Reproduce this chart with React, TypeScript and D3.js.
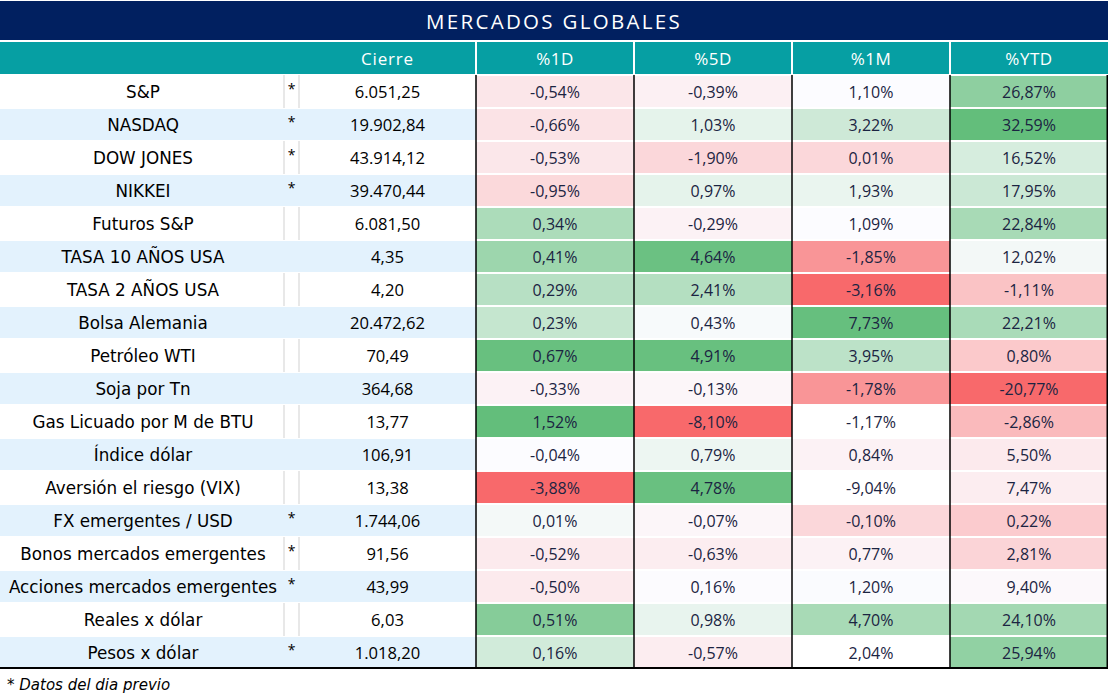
import React from "react";
import * as d3 from "d3";

const title = "MERCADOS GLOBALES";
const pctColumns = ["%1D", "%5D", "%1M", "%YTD"];
const footnote = "* Datos del dia previo";

const names = [
  "S&P", "NASDAQ", "DOW JONES", "NIKKEI", "Futuros S&P", "TASA 10 AÑOS USA",
  "TASA 2 AÑOS USA", "Bolsa Alemania", "Petróleo WTI", "Soja por Tn",
  "Gas Licuado por M de BTU", "Índice dólar", "Aversión el riesgo (VIX)",
  "FX emergentes / USD", "Bonos mercados emergentes", "Acciones mercados emergentes",
  "Reales x dólar", "Pesos x dólar",
];
const previousDay = [true, true, true, true, false, false, false, false, false, false, false, false, false, true, true, true, false, true];
const cierre = ["6.051,25", "19.902,84", "43.914,12", "39.470,44", "6.081,50", "4,35", "4,20", "20.472,62", "70,49", "364,68", "13,77", "106,91", "13,38", "1.744,06", "91,56", "43,99", "6,03", "1.018,20"];

const pct1D = [-0.54, -0.66, -0.53, -0.95, 0.34, 0.41, 0.29, 0.23, 0.67, -0.33, 1.52, -0.04, -3.88, 0.01, -0.52, -0.50, 0.51, 0.16];
const pct5D = [-0.39, 1.03, -1.90, 0.97, -0.29, 4.64, 2.41, 0.43, 4.91, -0.13, -8.10, 0.79, 4.78, -0.07, -0.63, 0.16, 0.98, -0.57];
const pct1M = [1.10, 3.22, 0.01, 1.93, 1.09, -1.85, -3.16, 7.73, 3.95, -1.78, -1.17, 0.84, -9.04, -0.10, 0.77, 1.20, 4.70, 2.04];
const pctYTD = [26.87, 32.59, 16.52, 17.95, 22.84, 12.02, -1.11, 22.21, 0.80, -20.77, -2.86, 5.50, 7.47, 0.22, 2.81, 9.40, 24.10, 25.94];

// heat level of the conditional formatting (-1 red .. 0 neutral .. 1 green, null = no fill)
const heat1D = [-0.15, -0.17, -0.14, -0.24, 0.52, 0.62, 0.45, 0.36, 0.97, -0.07, 1, 0, -1, 0.05, -0.12, -0.12, 0.77, 0.28];
const heat5D = [-0.08, 0.15, -0.25, 0.15, -0.07, 0.95, 0.47, 0.03, 0.97, -0.04, -1, 0.1, 0.96, -0.04, -0.1, -0.01, 0.13, -0.1];
const heat1M = [0, 0.3, -0.25, 0.12, 0, -0.7, -1, 0.98, 0.42, -0.7, null, -0.07, null, -0.25, -0.07, 0.01, 0.55, null];
const heatYTD = [0.72, 1, 0.25, 0.32, 0.55, 0.06, -0.39, 0.54, -0.35, -1, -0.45, -0.12, -0.1, -0.33, -0.27, -0.03, 0.58, 0.7];

const pctValues = [pct1D, pct5D, pct1M, pctYTD];
const heatValues = [heat1D, heat5D, heat1M, heatYTD];

const fmtPct = (v: number) => d3.format(".2f")(v).replace("\u2212", "-").replace(".", ",") + "%";

export default function App() {
  const W = 1109;
  const H = 699;
  const tableLeft = 0;
  const tableRight = 1108;
  const starLeft = 284;
  const cierreLeft = 299;
  const pctLeft = 476;

  const x = d3.scaleBand<string>().domain(pctColumns).range([pctLeft, tableRight]);
  const y = d3.scaleBand<string>().domain(names).range([75, 669]).paddingInner(0.06).paddingOuter(0.03);
  const step = y.step();
  const color = d3.scaleLinear<string>().domain([-1, 0, 1]).range(["#F8696B", "#FCFCFF", "#63BE7B"]);

  const nameFont = "'DejaVu Sans', sans-serif";
  const numFont = "'Open Sans', sans-serif";

  return (
    <svg width={W} height={H} style={{ position: "absolute", left: 0, top: 0, background: "#fff" }}>
      <rect x={tableLeft} y={1} width={tableRight - tableLeft} height={39} fill="#012060" />
      <text x={(tableLeft + tableRight) / 2} y={21} fill="#fff" fontFamily={numFont} fontSize={20.5} letterSpacing={2.3} textAnchor="middle" dominantBaseline="central">{title}</text>

      <rect x={tableLeft} y={42} width={tableRight - tableLeft} height={32} fill="#069FA3" />
      <text x={(cierreLeft + pctLeft) / 2} y={58} fill="#fff" fontFamily={numFont} fontSize={17} letterSpacing={0.8} textAnchor="middle" dominantBaseline="central">Cierre</text>
      {pctColumns.map((c) => (
        <g key={c}>
          <rect x={x(c)! - 1} y={42} width={2} height={32} fill="#fff" />
          <text x={x(c)! + x.bandwidth() / 2} y={58} fill="#fff" fontFamily={numFont} fontSize={17} letterSpacing={0.5} textAnchor="middle" dominantBaseline="central">{c}</text>
        </g>
      ))}

      {names.map((n, i) => {
        const top = y(n)!;
        const h = y.bandwidth();
        const cy = top + h / 2;
        const blue = i % 2 === 1;
        return (
          <g key={n}>
            {blue ? (
              <rect x={tableLeft} y={top} width={pctLeft - tableLeft} height={h} fill="#E3F2FD" />
            ) : (
              <g stroke="#D9D9D9" strokeWidth={1.2}>
                <line x1={starLeft} x2={starLeft} y1={top - (step - h) / 2} y2={top + h + (step - h) / 2} />
                <line x1={cierreLeft} x2={cierreLeft} y1={top - (step - h) / 2} y2={top + h + (step - h) / 2} />
              </g>
            )}
            <text x={starLeft / 2 + 1} y={cy} fill="#000" fontFamily={nameFont} fontSize={16.8} textAnchor="middle" dominantBaseline="central">{n}</text>
            {previousDay[i] && (
              <text x={(starLeft + cierreLeft) / 2} y={cy - 3} fill="#000" fontFamily={numFont} fontSize={14} textAnchor="middle" dominantBaseline="central">*</text>
            )}
            <text x={(cierreLeft + pctLeft) / 2} y={cy} fill="#000" fontFamily={numFont} fontSize={16.6} textAnchor="middle" dominantBaseline="central">{cierre[i]}</text>
            {pctColumns.map((c, j) => {
              const hv = heatValues[j][i];
              return (
                <g key={c}>
                  <rect x={x(c)!} y={top} width={x.bandwidth()} height={h} fill={hv === null ? "#FFFFFF" : color(hv)} />
                  <text x={x(c)! + x.bandwidth() / 2} y={cy} fill="#1B2442" fontFamily={numFont} fontSize={16} textAnchor="middle" dominantBaseline="central">{fmtPct(pctValues[j][i])}</text>
                </g>
              );
            })}
          </g>
        );
      })}

      {pctColumns.map((c) => (
        <rect key={c} x={x(c)! - 0.75} y={75} width={1.5} height={593} fill="#000" />
      ))}
      <rect x={tableRight - 1.5} y={75} width={1.5} height={593} fill="#000" />
      <rect x={tableLeft} y={667} width={tableRight - tableLeft} height={2} fill="#000" />

      <text x={7} y={685} fill="#000" fontFamily={nameFont} fontStyle="italic" fontSize={15} dominantBaseline="central">{footnote}</text>
    </svg>
  );
}
